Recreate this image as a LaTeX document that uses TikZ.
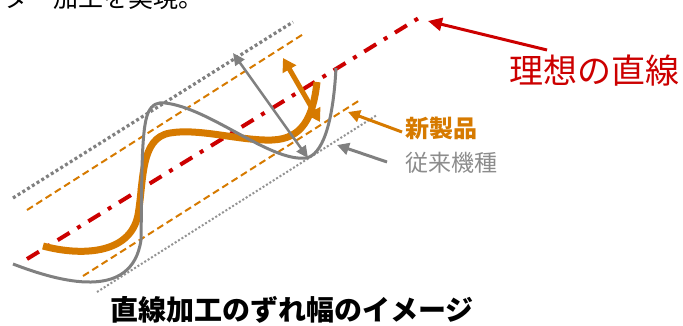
\documentclass[tikz,border=0pt]{standalone}
\usepackage{fontspec}
\setmainfont{Noto Sans CJK JP}
\usetikzlibrary{arrows.meta}
\definecolor{ired}{RGB}{204,0,0}
\definecolor{iorange}{RGB}{214,122,0}
\definecolor{igray}{RGB}{128,128,128}
\definecolor{itext}{RGB}{140,140,140}
\begin{document}
\begin{tikzpicture}[x=1pt,y=-1pt,
  gdotA/.style={igray, line width=3.2pt, dash pattern=on 3pt off 2.6pt},
  gdotB/.style={igray!85, line width=2pt, dash pattern=on 2pt off 2pt},
  odash/.style={iorange, line width=2pt, dash pattern=on 7pt off 4pt},
  rline/.style={ired, line width=4pt, dash pattern=on 14pt off 9pt on 4pt off 9pt},
  gcurve/.style={igray, line width=3pt},
  ocurve/.style={iorange, line width=7pt},
  lbl/.style={inner sep=0pt, anchor=center}]
\useasboundingbox (0,0) rectangle (683,325);
\clip (0,0) rectangle (683,325);

% cut-off text line at top
\node[inner sep=0pt, anchor=base west, font=\fontsize{25}{30}\selectfont] (top) at (3,7) {ター加工を実現。};

% guide lines
\coordinate (gu1) at (13,198); \coordinate (gu2) at (293,22);
\coordinate (ou1) at (27,210); \coordinate (ou2) at (305,33);
\coordinate (r1) at (27,259);  \coordinate (r2) at (422,16);
\coordinate (ol1) at (83,276); \coordinate (ol2) at (360,100);
\coordinate (gl1) at (97,292); \coordinate (gl2) at (377,115);
\draw[gdotA] (gu1) -- (gu2);
\draw[odash] (ou1) -- (ou2);
\draw[odash] (ol1) -- (ol2);
\draw[gdotB] (gl1) -- (gl2);
\draw[rline] (r1) -- (r2);

% new product curve
\draw[ocurve] (43,246) .. controls (80,256) and (130,255) .. (138,215)
  .. controls (144,180) and (140,138) .. (170,133)
  .. controls (200,128) and (240,141) .. (272,140)
  .. controls (302,139) and (313,118) .. (317,82);

% conventional curve
\draw[gcurve] (13,264) .. controls (60,282) and (132,302) .. (141,240)
  .. controls (142,180) and (141,130) .. (148,113)
  .. controls (152,104) and (158,102) .. (165,103)
  .. controls (210,108) and (270,162) .. (306,158)
  .. controls (322,155) and (333,125) .. (336,68);

% double arrows
\coordinate (ga1) at (233,53); \coordinate (ga2) at (308,158);
\draw[igray, line width=2.5pt, {Triangle[length=12pt,width=11pt]}-{Triangle[length=12pt,width=11pt]}] (ga1) -- (ga2);
\coordinate (oa1) at (283,58); \coordinate (oa2) at (320,122);
\draw[iorange, line width=5pt, {Triangle[length=13pt,width=15pt]}-{Triangle[length=13pt,width=15pt]}] (oa1) -- (oa2);

% labels
\node[lbl, text=ired, font=\fontsize{34}{40}\selectfont] (lblR) at (594,71) {理想の直線};
\node[lbl, text=iorange, font=\fontsize{24}{28}\bfseries] (lblN) at (441,128) {新製品};
\node[lbl, text=itext, font=\fontsize{23}{28}\selectfont] (lblC) at (451,163) {従来機種};
\node[lbl, font=\fontsize{28}{32}\bfseries] (title) at (292,310) {直線加工のずれ幅のイメージ};

% label arrows
\coordinate (rt) at (547,50); \coordinate (rh) at (428,21);
\draw[ired, line width=3pt, -{Triangle[length=14pt,width=13pt]}] (rt) -- (rh);
\coordinate (nt) at (402,132); \coordinate (nh) at (348,112);
\draw[iorange, line width=3pt, -{Triangle[length=12pt,width=12pt]}] (nt) -- (nh);
\coordinate (ct) at (387,162); \coordinate (ch) at (337,145);
\draw[igray, line width=3pt, -{Triangle[length=12pt,width=12pt]}] (ct) -- (ch);
\end{tikzpicture}
\end{document}
